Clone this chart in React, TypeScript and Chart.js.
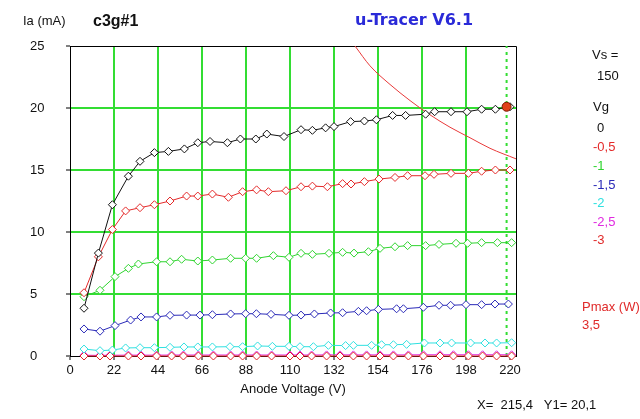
import React, { useEffect, useRef } from "react";
import { Chart, registerables } from "chart.js";

Chart.register(...registerables);

// ---- data ----
const xTickValues = [0, 22, 44, 66, 88, 110, 132, 154, 176, 198, 220];
const yTickValues = [0, 5, 10, 15, 20, 25];

const vgLabels = ["0", "-0,5", "-1", "-1,5", "-2", "-2,5", "-3"];

const va0 = [7, 14.2, 21.2, 29.2, 35, 42.2, 49.2, 57.2, 63.9, 70, 78.7, 85.2, 92.9, 98.4, 107, 115.5, 121.2, 127.8, 132, 140.3, 147.2, 153.2, 161.3, 167.8, 177.8, 182.3, 190.5, 198.5, 205.8, 212.7, 220];
const ia0 = [3.85, 8.3, 12.2, 14.5, 15.7, 16.4, 16.5, 16.7, 17.2, 17.3, 17.2, 17.5, 17.5, 17.9, 17.7, 18.25, 18.2, 18.4, 18.5, 18.9, 18.95, 19.05, 19.4, 19.4, 19.5, 19.7, 19.7, 19.7, 19.9, 19.9, 20.1];

const va05 = [7, 14.2, 21.2, 27.8, 35, 42.2, 50, 58.3, 63.9, 71.2, 79.2, 86.3, 93.3, 99.2, 108, 115.5, 121.2, 128.7, 136.3, 140.5, 147.2, 154.5, 162.5, 168.8, 177.5, 182, 190.5, 199.2, 205.8, 212.7, 220];
const ia05 = [5.1, 8.0, 10.2, 11.7, 11.96, 12.2, 12.5, 12.9, 12.9, 13.06, 12.8, 13.25, 13.4, 13.25, 13.33, 13.65, 13.7, 13.65, 13.9, 13.87, 14.06, 14.27, 14.4, 14.54, 14.54, 14.65, 14.73, 14.73, 14.9, 15.0, 15.0];

const va1 = [7, 15, 22.5, 29.2, 34.2, 43.3, 50, 55.8, 63.9, 71.2, 80.3, 87.8, 93.3, 101.7, 109.5, 115.5, 121.2, 129.5, 136.3, 142, 149.2, 155, 162.5, 168.8, 177.8, 184.5, 193, 198.8, 205.8, 213.7, 220.8];
const ia1 = [4.78, 5.3, 6.4, 7.07, 7.42, 7.6, 7.6, 7.8, 7.66, 7.74, 7.88, 7.88, 7.88, 8.09, 7.96, 8.28, 8.2, 8.28, 8.36, 8.3, 8.41, 8.68, 8.81, 8.9, 8.9, 9.0, 9.09, 9.09, 9.14, 9.14, 9.14];

const va15 = [7, 15, 22.5, 30.3, 35.5, 43.3, 50, 58.3, 65, 71.2, 80.3, 87.8, 93.2, 100.5, 109.5, 115.5, 122.2, 130.3, 136.3, 144.2, 148.3, 154.2, 163.3, 166.7, 176.7, 184.5, 190.3, 198, 205.8, 212.5, 219.2];
const ia15 = [2.18, 2.0, 2.45, 2.9, 3.15, 3.15, 3.28, 3.3, 3.3, 3.33, 3.39, 3.41, 3.41, 3.36, 3.28, 3.3, 3.39, 3.47, 3.49, 3.6, 3.65, 3.76, 3.81, 3.81, 3.93, 4.09, 4.09, 4.14, 4.14, 4.19, 4.19];

const va2 = [7, 15, 21.2, 27.8, 35, 42.2, 50, 57, 63.9, 71.2, 80, 86.3, 93.8, 101.2, 109.5, 115, 121.7, 129.2, 137.8, 141.7, 150.8, 155.8, 161.7, 168.3, 177.2, 185, 190.8, 200.3, 207.5, 213.3, 220.8];
const ia2 = [0.56, 0.43, 0.48, 0.65, 0.67, 0.67, 0.7, 0.73, 0.73, 0.73, 0.75, 0.75, 0.81, 0.78, 0.78, 0.75, 0.75, 0.86, 0.84, 0.86, 0.86, 0.91, 0.91, 0.94, 1.05, 1.05, 1.05, 1.05, 1.05, 1.05, 1.07];

const va25 = [7, 15, 20, 29.2, 35.5, 43.3, 50.8, 56.7, 64.2, 71.7, 80.3, 86.3, 93.3, 100.8, 110, 115, 120.8, 128.3, 135, 141.7, 148.3, 155, 161.7, 169.2, 176.7, 185, 191.7, 199.2, 206.3, 213.3, 220.8];
const ia25 = [0.06, 0.05, 0.06, 0.07, 0.07, 0.07, 0.08, 0.08, 0.08, 0.08, 0.08, 0.08, 0.08, 0.08, 0.08, 0.08, 0.08, 0.09, 0.09, 0.09, 0.09, 0.09, 0.09, 0.09, 0.1, 0.1, 0.1, 0.1, 0.1, 0.1, 0.1];

const va3 = [7, 15, 20, 29.2, 35.5, 43.3, 50.8, 56.7, 64.2, 71.7, 80.3, 86.3, 93.3, 100.8, 110, 115, 120.8, 128.3, 135, 141.7, 148.3, 155, 161.7, 169.2, 176.7, 185, 191.7, 199.2, 206.3, 213.3, 220.8];
const ia3 = [0, 0, 0, 0, 0, 0, 0, 0, 0, 0, 0, 0, 0, 0, 0, 0, 0, 0, 0, 0, 0, 0, 0, 0, 0, 0, 0, 0, 0, 0, 0];

// Pmax = 3,5 W curve as seen on the picture
const pmaxVa = [142.5, 150, 160, 170, 180, 190, 200, 210, 223];
const pmaxIa = [25, 23.4, 21.9, 20.6, 19.45, 18.45, 17.6, 16.75, 15.9];

// cursor
const cursorX = [218.3];
const cursorY = [20.1];

// ---- styles ----
const seriesColors = ["#111111", "#e42a2a", "#2fd42f", "#2a2ab8", "#2fe0e0", "#e02ae0", "#e02a2a"];
const gridGreen = "#33dd33";
const FONT = "'Liberation Sans', Arial, sans-serif";

const toPts = (xs: number[], ys: number[]) => xs.map((x, i) => ({ x, y: ys[i] }));

const framePlugin = {
  id: "frame",
  beforeDatasetsDraw(chart: any) {
    const { ctx, chartArea: a } = chart;
    ctx.save();
    ctx.strokeStyle = "#000";
    ctx.lineWidth = 1;
    ctx.beginPath();
    ctx.moveTo(a.left, a.top + 0.5);
    ctx.lineTo(a.right + 0.5, a.top + 0.5);
    ctx.lineTo(a.right + 0.5, a.bottom);
    ctx.stroke();
    ctx.restore();
  },
  afterDraw(chart: any) {
    const { ctx } = chart;
    ctx.save();
    ctx.textBaseline = "middle";
    ctx.textAlign = "left";
    const t = (s: string, x: number, y: number, color = "#111", font = `13px ${FONT}`) => {
      ctx.fillStyle = color;
      ctx.font = font;
      ctx.fillText(s, x, y);
    };
    t("Ia (mA)", 23, 21);
    t("c3g#1", 93, 22, "#111", `bold 16px ${FONT}`);
    t("u-Tracer V6.1", 355, 21, "#2a2ad8", `bold 16px 'DejaVu Sans', sans-serif`);
    t("Vs =", 592, 55);
    t("150", 597, 76);
    t("Vg", 593, 107);
    const ys = [128, 147, 166, 185, 203, 222, 240];
    vgLabels.forEach((l, i) => {
      const xoff = l.startsWith("-") ? 593 : 597;
      t(l, xoff, ys[i], seriesColors[i]);
    });
    t("Pmax (W):", 582, 307, "#e02a2a");
    t("3,5", 582, 325, "#e02a2a");
    t("X=  215,4   Y1= 20,1", 477, 405);
    ctx.restore();
  },
};

export default function App() {
  const ref = useRef<HTMLCanvasElement | null>(null);
  useEffect(() => {
    if (!ref.current) return;
    const mk = (data: any[], color: string, extra: any = {}) => ({
      data,
      borderColor: color,
      backgroundColor: "#ffffff",
      borderWidth: 1,
      pointStyle: "rectRot",
      pointRadius: 4,
      pointBorderWidth: 1,
      pointBorderColor: color,
      pointBackgroundColor: "#ffffff",
      tension: 0,
      clip: false,
      ...extra,
    });
    const chart = new Chart(ref.current, {
      type: "line",
      data: {
        datasets: [
          {
            data: toPts(cursorX, cursorY),
            showLine: false,
            pointStyle: "circle",
            pointRadius: 4.5,
            pointBackgroundColor: "#e0401a",
            pointBorderColor: "#7a1a00",
            pointBorderWidth: 1,
            clip: false,
          },
          mk(toPts(va0, ia0), seriesColors[0]),
          mk(toPts(va05, ia05), seriesColors[1]),
          mk(toPts(va1, ia1), seriesColors[2]),
          mk(toPts(va15, ia15), seriesColors[3]),
          mk(toPts(va2, ia2), seriesColors[4]),
          mk(toPts(va3, ia3), seriesColors[6]),
          mk(toPts(va25, ia25), seriesColors[5]),
          {
            data: toPts(pmaxVa, pmaxIa),
            borderColor: "#e83a3a",
            borderWidth: 1,
            pointRadius: 0,
            tension: 0.4,
            cubicInterpolationMode: "monotone",
          },
          {
            data: [
              { x: cursorX[0], y: 0 },
              { x: cursorX[0], y: 25 },
            ],
            borderColor: gridGreen,
            borderWidth: 2,
            borderDash: [3, 4],
            pointRadius: 0,
          },
        ],
      },
      options: {
        responsive: false,
        animation: false,
        events: [],
        layout: { padding: { left: 30, top: 46, right: 124, bottom: 0 } },
        plugins: { legend: { display: false }, tooltip: { enabled: false }, title: { display: false } },
        scales: {
          x: {
            type: "linear",
            min: 0,
            max: 223,
            afterBuildTicks: (s: any) => {
              s.ticks = xTickValues.map((v) => ({ value: v }));
            },
            afterFit: (s: any) => {
              s.height = 63;
            },
            ticks: {
              color: "#111",
              font: { family: FONT, size: 13 },
              padding: 3,
              maxRotation: 0,
              autoSkip: false,
              callback: (v: any) => String(v),
            },
            grid: {
              color: (c: any) => (c.tick && (c.tick.value === 0 || c.tick.value === 220) ? "rgba(0,0,0,0)" : gridGreen),
              lineWidth: 2,
              tickColor: "#000",
              tickLength: 4,
              tickWidth: 1,
            },
            border: { display: true, color: "#000", width: 1 },
            title: {
              display: true,
              text: "Anode Voltage (V)",
              color: "#111",
              font: { family: FONT, size: 13 },
              padding: { top: 4, bottom: 22 },
            },
          },
          y: {
            type: "linear",
            min: 0,
            max: 25,
            afterBuildTicks: (s: any) => {
              s.ticks = yTickValues.map((v) => ({ value: v }));
            },
            afterFit: (s: any) => {
              s.width = 40;
            },
            ticks: {
              color: "#111",
              font: { family: FONT, size: 13 },
              crossAlign: "far",
              padding: 4,
              callback: (v: any) => String(v),
            },
            grid: {
              color: (c: any) => (c.tick && (c.tick.value === 0 || c.tick.value === 25) ? "rgba(0,0,0,0)" : gridGreen),
              lineWidth: 2,
              tickColor: "#000",
              tickLength: 4,
              tickWidth: 1,
            },
            border: { display: true, color: "#000", width: 1 },
          },
        },
      },
      plugins: [framePlugin],
    } as any);
    return () => chart.destroy();
  }, []);
  return (
    <div style={{ position: "fixed", left: 0, top: 0, width: 640, height: 419, background: "#fff" }}>
      <canvas ref={ref} width={640} height={419} style={{ width: 640, height: 419, display: "block" }} />
    </div>
  );
}
